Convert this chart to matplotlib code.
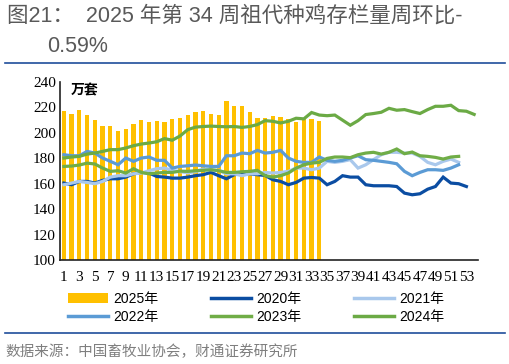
import matplotlib
matplotlib.use("Agg")
import matplotlib.pyplot as plt
from matplotlib.patches import Patch
from matplotlib.lines import Line2D
import numpy as np

weeks = list(range(1, 55))
tick_labels = [str(w) for w in range(1, 54, 2)]

bars2025 = [217, 215, 218.3, 214, 210, 205.7, 205.1, 201.2, 203.3, 207.3, 209.8, 208.6,
            209.5, 208.6, 211.2, 211.4, 214.1, 216.2, 217, 215.1, 214.1, 225.4, 221.5, 221,
            216.3, 212, 211.8, 213.4, 212.3, 210.6, 208.7, 211.5, 210.6, 209.4]

y2020 = [160.5, 159.2, 161.8, 161.8, 160.5, 162.6, 163.9, 163.9, 165.2, 167.8, 168.9, 168.4,
         165.7, 165.2, 164.4, 164.4, 165.2, 166.3, 167.1, 168.9, 166.3, 163.9, 167.1, 167.8,
         167.8, 167.1, 166.5, 163.1, 161.8, 159.2, 161, 164.4, 164.9, 164.4, 159.2, 161.8,
         166.3, 165.2, 165.2, 159.2, 158.4, 158.4, 158.4, 157.8, 152.6, 151.3, 152.1, 155.7,
         157.8, 165.2, 160.5, 160, 157.8]

y2021 = [159.2, 160.5, 161.8, 161, 160, 161.8, 165.2, 166.3, 166.3, 167.8, 168.4, 170.2,
         171.8, 172.3, 170.5, 169.5, 168.5, 169.5, 171.5, 171, 170.5, 167.8, 167.8, 166.3,
         167.8, 167.8, 168.9, 168.4, 168.9, 169.7, 172.3, 172.3, 171, 172.3, 177.6, 176.8,
         177.6, 178.9, 172.3, 174.9, 178.9, 182.8, 184.7, 184.7, 184.1, 184.1, 181.5, 176.8,
         174.9, 177.6, 179.4, 176.8]

y2022 = [182.8, 182, 182, 185.4, 184.1, 180.2, 177.6, 174.9, 180.2, 177.6, 180.2, 181,
         178.4, 178.4, 172.3, 173.6, 174.1, 174.7, 174.1, 173.6, 173.6, 182, 182, 184.1,
         183.6, 186.2, 184.1, 184.7, 186.2, 180.2, 177.6, 176.8, 176.8, 181, 178.4, 177.6,
         178.4, 180.2, 182, 178.9, 178.4, 177.6, 176.8, 175.7, 169.7, 166.3, 168.9, 171,
         171, 170.5, 172.3, 174.9]

y2023 = [173.6, 173.9, 174.7, 176.2, 175.5, 172.3, 169.7, 170.2, 168.4, 171.8, 168.9, 167.8,
         168.4, 168.9, 168.9, 169.9, 169.7, 170.2, 170.5, 171, 170.2, 168.9, 168.9, 169.4,
         169.7, 170.5, 166.3, 165.2, 166.3, 168.4, 172.3, 174.9, 176.2, 176.8, 179.9, 181,
         181, 180.5, 182.8, 184.1, 184.7, 183.3, 184.7, 187.3, 183.6, 184.9, 182, 181.5,
         180.7, 179.4, 181, 181.5]

y2024 = [180.2, 181, 181.5, 183.3, 184.1, 185.4, 186.8, 186.8, 188.1, 189.9, 191.2, 192,
         193, 195.5, 194.2, 197.5, 202.5, 204.5, 205, 205.3, 205, 204.8, 205, 204.3,
         205, 206.5, 209.6, 209.1, 207.8, 209.1, 211.5, 211, 216, 214, 213.5, 214,
         210, 206, 209.6, 214.4, 215.2, 216.2, 219.3, 217.8, 218.3, 216.7, 215.2, 218.3,
         220.9, 220.9, 221.7, 217.5, 217, 214.5]

series = [("2020年", y2020, "#0B4DA2"),
          ("2021年", y2021, "#A9C8EC"),
          ("2022年", y2022, "#5B9BD5"),
          ("2023年", y2023, "#70AD47"),
          ("2024年", y2024, "#6BAA45")]
bar_color = "#FFC000"

cjk = ["Liberation Sans", "Noto Sans CJK SC"]
serif = ["Liberation Serif", "Noto Sans CJK SC"]

fig = plt.figure(figsize=(5.10, 3.64), dpi=100)
ax = fig.add_axes([60/510, 1-260/364, (478-60)/510, (260-82)/364])

x25 = np.arange(1, len(bars2025) + 1)
ax.bar(x25, bars2025, width=0.55, color=bar_color, zorder=1)
for name, ys, col in series:
    ax.plot(np.arange(1, len(ys) + 1), ys, color=col, lw=2.3, zorder=2,
            solid_joinstyle="miter")

ax.set_xlim(0.5, 54.5)
ax.set_ylim(100, 240)
ax.set_yticks(range(100, 241, 20))
ax.set_xticks(range(1, 54, 2))
ax.set_xticklabels(tick_labels)
for lab in ax.get_xticklabels() + ax.get_yticklabels():
    lab.set_fontfamily(serif)
    lab.set_fontsize(11)
    lab.set_color("black")
ax.tick_params(axis="both", length=0, pad=3)
ax.tick_params(axis="x", pad=8)
for s in ["top", "right"]:
    ax.spines[s].set_visible(False)
ax.spines["left"].set_color("#222222")
ax.spines["bottom"].set_color("#222222")
ax.spines["left"].set_linewidth(1.2)
ax.spines["bottom"].set_linewidth(1.2)

ax.text(0.025, 0.99, "万套", transform=ax.transAxes, ha="left", va="top",
        fontsize=10, fontweight="bold", family=["Noto Sans CJK SC"], color="black")

# Title
fig.text(7/510, 1-16/364, "图21：  2025 年第 34 周祖代种鸡存栏量周环比-",
         ha="left", va="center", fontsize=15.5, color="#595959", family=cjk)
fig.text(47/510, 1-47/364, "0.59%", ha="left", va="center", fontsize=15.5,
         color="#595959", family=cjk)

# Horizontal rules
fig.add_artist(Line2D([5/510, 505/510], [1-63/364, 1-63/364], color="#1F4E9B", lw=1.2))
fig.add_artist(Line2D([5/510, 505/510], [1-333/364, 1-333/364], color="#1F4E9B", lw=1.2))

# Legends (three columns)
handles = {"2025年": Patch(facecolor=bar_color, edgecolor="none")}
for name, ys, col in series:
    handles[name] = Line2D([], [], color=col, lw=2.5)
cols = [["2025年", "2022年"], ["2020年", "2023年"], ["2021年", "2024年"]]
col_x = [68, 211, 354]
for labs, xp in zip(cols, col_x):
    fig.legend([handles[l] for l in labs], labs, loc="upper left",
               bbox_to_anchor=(xp/510, 1-292/364), frameon=False, borderpad=0,
               borderaxespad=0, handlelength=2.9, handletextpad=0.35,
               labelspacing=0.28, prop={"family": cjk, "size": 10})

fig.text(5/510, 1-352/364, "数据来源：中国畜牧业协会，财通证券研究所", ha="left",
         va="center", fontsize=10.5, color="#7F7F7F", family=cjk)

fig.savefig("out.png", dpi=100)
